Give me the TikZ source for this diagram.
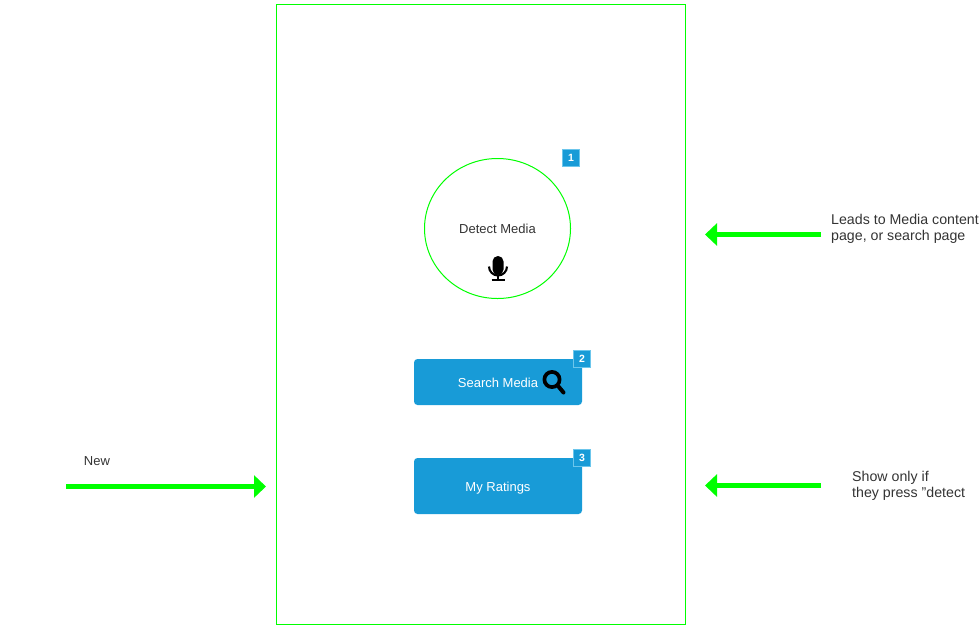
\documentclass[tikz,border=0pt]{standalone}
\usepackage{fontspec}
\setmainfont{Liberation Sans}
\usetikzlibrary{arrows.meta,shapes.geometric}
\definecolor{framegreen}{HTML}{00FF00}
\definecolor{btnblue}{HTML}{189BD7}
\definecolor{badgeline}{HTML}{6CC6EC}
\definecolor{inktext}{HTML}{333333}
\tikzset{
  frameline/.style={draw=framegreen, line width=1pt},
  flowarrow/.style={draw=framegreen, line width=5pt, -{Triangle[length=12pt,width=22pt]}},
  btnbox/.style={fill=btnblue, rounded corners=3.5pt, minimum width=168pt, inner sep=0pt},
  btntext/.style={text=white, font=\fontsize{13}{15}\selectfont, inner sep=0pt},
  badgebox/.style={fill=btnblue, draw=badgeline, line width=1pt, minimum size=17pt, inner sep=0pt, text=white, font=\fontsize{10.5}{12}\selectfont\bfseries},
  notetext/.style={text=inktext, align=left, font=\fontsize{14.2}{16}\selectfont, inner sep=0pt}
}
\begin{document}
\begin{tikzpicture}[x=1pt, y=-1pt]
      \useasboundingbox (0,0) rectangle (980,625);

      \node[frameline, minimum width=409pt, minimum height=620pt, inner sep=0pt] (screen) at (481,314.5) {};

      \node[frameline, ellipse, minimum width=146pt, minimum height=140pt, inner sep=0pt] (detect) at (497.5,228.5) {};
      \node[btntext, text=inktext] (detectlabel) at (497.5,229) {Detect Media};

      \node[btnbox, minimum height=46pt] (search) at (498,382) {};
      \node[btntext] (searchlabel) at (498,383) {Search Media};
      \node[btnbox, minimum height=56pt] (ratings) at (498,486) {};
      \node[btntext] (ratingslabel) at (498,488) {My Ratings};

      \node[badgebox] (badge1) at (571,158) {1};
      \node[badgebox] (badge2) at (582,359) {2};
      \node[badgebox] (badge3) at (582,458) {3};

      % microphone
      \fill[black, rounded corners=5.4pt] (492.5,256) rectangle (503.5,275);
      \draw[black, line width=2.1pt] (489,266.5) arc[start angle=180, end angle=0, radius=9];
      \draw[black, line width=2.1pt] (498,275.5) -- (498,280);
      \draw[black, line width=2pt] (491.5,280.2) -- (505,280.2);

      % magnifier
      \draw[black, line width=3.7pt] (552,379.5) circle[radius=7.6];
      \draw[black, line width=4pt, line cap=round] (558.5,386.5) -- (563.5,392.5);

      \node[notetext, anchor=north west] (note1) at (831,214) {Leads to Media content\\page, or search page};
      \node[notetext, anchor=north west] (note2) at (852,471) {Show only if\\they press "detect};
      \node[btntext, text=inktext] (newlabel) at (97,461) {New};

      \coordinate (newstart) at (66,486.5);
      \coordinate (newend) at (266,486.5);
      \coordinate (note1start) at (821,234.5);
      \coordinate (note1end) at (705,234.5);
      \coordinate (note2start) at (821,485.5);
      \coordinate (note2end) at (705,485.5);

      \draw[flowarrow] (newstart) -- (newend);
      \draw[flowarrow] (note1start) -- (note1end);
      \draw[flowarrow] (note2start) -- (note2end);
    \end{tikzpicture}
\end{document}
